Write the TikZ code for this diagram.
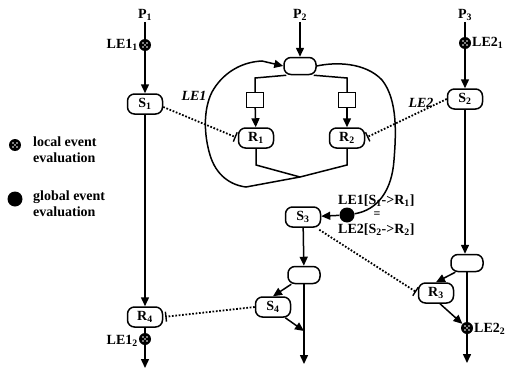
\documentclass[tikz,border=0pt]{standalone}
\usepackage{fontspec}
\setmainfont{Liberation Serif}
\usetikzlibrary{arrows.meta}
\begin{document}
\begin{tikzpicture}[x=1pt,y=-1pt,
  font=\fontsize{14}{16}\selectfont\bfseries,
  ln/.style={line width=1.5pt},
  arr/.style={line width=1.5pt,-{Triangle[length=9pt,width=8pt]}},
  proc/.style={draw,line width=1.5pt,rounded corners=7pt,minimum width=35pt,minimum height=20pt,inner sep=0pt},
  sq/.style={draw,line width=1.3pt,minimum width=17pt,minimum height=15pt,inner sep=0pt},
  lev/.style={circle,fill=black,minimum size=12pt,inner sep=0pt,
    path picture={\foreach \dx/\dy in {0/0,2/2,-2/2,2/-2,-2/-2}
      \fill[white] ([shift={(\dx pt,\dy pt)}]path picture bounding box.center) circle (0.95pt);}},
  gev/.style={circle,fill=black,minimum size=15pt,inner sep=0pt},
  dotl/.style={line width=1.8pt,dash pattern=on 1.7pt off 1.7pt,-{Bar[width=10pt,line width=1.4pt]},shorten >=2pt},
  lbl/.style={inner sep=1pt}
]
\useasboundingbox (0,0) rectangle (506,372);

% legend
\node[lev] (leg1) at (15,145) {};
\node[lbl,anchor=north west,align=left] (leg1t) at (32,136) {local event\\evaluation};
\node[gev] (leg2) at (15,199) {};
\node[lbl,anchor=north west,align=left] (leg2t) at (32,190) {global event\\evaluation};

% process labels
\node[lbl] (P1) at (145,15) {P\textsubscript{1}};
\node[lbl] (P2) at (300,15) {P\textsubscript{2}};
\node[lbl] (P3) at (465,15) {P\textsubscript{3}};

% left column
\node[lev] (le11) at (145,45) {};
\node[lbl,anchor=east] (le11t) at (139,45) {LE1\textsubscript{1}};
\node[proc] (S1) at (145,104) {S\textsubscript{1}};
\node[proc] (R4) at (145,317) {R\textsubscript{4}};
\node[lev] (le12) at (145,339) {};
\node[lbl,anchor=east] (le12t) at (139,341) {LE1\textsubscript{2}};
\coordinate (end1) at (145,368);
\draw[ln] (P1) -- (le11);
\draw[arr] (le11) -- (S1);
\draw[arr] (S1) -- (R4);
\draw[ln] (R4) -- (le12);
\draw[arr] (le12) -- (end1);

% middle top structure
\node[proc,minimum width=32pt,minimum height=17pt] (T) at (300,66) {};
\node[sq] (Q1) at (255,100) {};
\node[sq] (Q2) at (347,100) {};
\node[proc] (R1) at (256,138) {R\textsubscript{1}};
\node[proc] (R2) at (347,138) {R\textsubscript{2}};
\coordinate (J) at (300,177);
\coordinate (b1) at (255,78);
\coordinate (b2) at (347,78);
\coordinate (c1) at (256,165);
\coordinate (c2) at (347,165);
\draw[arr] (P2) -- (T);
\draw[ln] (T.south west) ++(3,0) -- (b1) -- (Q1);
\draw[ln] (T.south east) ++(-3,0) -- (b2) -- (Q2);
\draw[arr] (Q1) -- (R1);
\draw[arr] (Q2) -- (R2);
\draw[ln] (R1) -- (c1) -- (J) -- (c2) -- (R2);

% loop back to T
\draw[arr] (J) -- (246,187) .. controls (230,185) and (216,175) .. (210,155)
  .. controls (204,135) and (203,110) .. (212,92)
  .. controls (222,74) and (240,62) .. (262,61)
  -- (T.west);

% right exit to global event
\node[gev] (G) at (347,215) {};
\draw[ln] (T.east) .. controls (335,62) and (365,62) .. (382,80)
  .. controls (398,100) and (396,135) .. (394,160)
  .. controls (392,190) and (378,210) .. (G);

\node[proc] (S3) at (303,217) {S\textsubscript{3}};
\draw[arr] (G) -- (S3);
\node[lbl,anchor=west] (gt1) at (337,201) {LE1[S\textsubscript{1}->R\textsubscript{1}]};
\node[lbl,anchor=west] (gt2) at (337,230) {LE2[S\textsubscript{2}->R\textsubscript{2}]};
\node[inner sep=0pt,font=\fontsize{12}{12}\selectfont\bfseries] (eq) at (377,215) {=};

% middle bottom
\node[proc,minimum width=32pt,minimum height=17pt] (A) at (304,275) {};
\node[proc] (S4) at (273,307) {S\textsubscript{4}};
\coordinate (m4) at (304,331);
\coordinate (end2) at (304,364);
\draw[arr] (S3) -- (A);
\draw[arr] (A.south west) ++(4,0) -- (S4.north);
\draw[arr] (A) -- (end2);
\draw[arr] (S4.south east) ++(-6,0) -- (m4);

% right column
\node[lev] (le21) at (465,43) {};
\node[lbl,anchor=west] (le21t) at (471,43) {LE2\textsubscript{1}};
\node[proc] (S2) at (465,99) {S\textsubscript{2}};
\node[proc,minimum width=32pt,minimum height=17pt] (B) at (467,263) {};
\node[proc] (R3) at (436,293) {R\textsubscript{3}};
\node[lev] (le22) at (467,328) {};
\node[lbl,anchor=west] (le22t) at (473,329) {LE2\textsubscript{2}};
\coordinate (end3) at (467,363);
\draw[ln] (P3) -- (le21);
\draw[arr] (le21) -- (S2);
\draw[arr] (S2) -- (S2 |- B.north);
\draw[arr] (B.south west) ++(5,0) -- (R3.north);
\draw[ln] (B) -- (le22);
\draw[arr] (R3.south) ++(4,0) -- (le22);
\draw[arr] (le22) -- (end3);

% dotted event links
\draw[dotl] (S1.east) ++(0,3) -- (R1.west);
\node[lbl] (lab1) at (194,96) {\textit{LE1}};
\draw[dotl] (S2.west) -- (R2.east);
\node[lbl] (lab2) at (421,103) {\textit{LE2}};
\draw[dotl] (S3.south east) ++(-2,2) -- (R3.west);
\draw[dotl] (S4.west) -- (R4.east);
\end{tikzpicture}
\end{document}
